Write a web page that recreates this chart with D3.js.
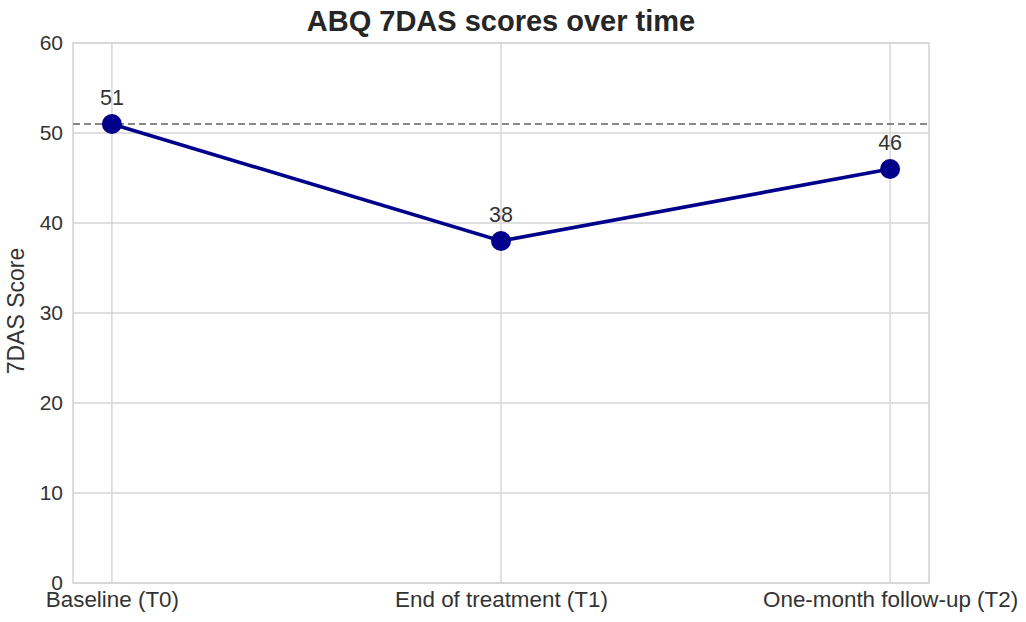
<!DOCTYPE html>
<html>
<head>
<meta charset="utf-8">
<script src="https://cdn.jsdelivr.net/npm/d3@7"></script>
<style>
  body { margin: 0; background: #fff; }
  text { font-family: "Liberation Sans", Arial, sans-serif; }
</style>
</head>
<body>
<svg id="chart" width="1026" height="622"></svg>
<script>
const timepoints = ['Baseline (T0)', 'End of treatment (T1)', 'One-month follow-up (T2)']
const scores = [51, 38, 46]
const yTicks = [0, 10, 20, 30, 40, 50, 60]
const baselineRef = 51

const margin = { top: 43, right: 97, bottom: 39, left: 73 }
const width = 1026, height = 622
const innerW = width - margin.left - margin.right
const innerH = height - margin.top - margin.bottom

const svg = d3.select('#chart')
const g = svg.append('g')
  .attr('transform', `translate(${margin.left},${margin.top})`)

// index scale with matplotlib-ish 5% padding
const x = d3.scaleLinear()
  .domain([-0.1, timepoints.length - 1 + 0.1])
  .range([0, innerW])

const y = d3.scaleLinear()
  .domain([0, 60])
  .range([innerH, 0])

const gridColor = '#d5d5d5'
const textColor = '#333'

// horizontal grid
g.append('g')
  .selectAll('line')
  .data(yTicks)
  .join('line')
  .attr('x1', 0)
  .attr('x2', innerW)
  .attr('y1', d => y(d))
  .attr('y2', d => y(d))
  .attr('stroke', gridColor)
  .attr('stroke-width', 1.4)

// vertical grid
g.append('g')
  .selectAll('line')
  .data(timepoints)
  .join('line')
  .attr('x1', (d, i) => x(i))
  .attr('x2', (d, i) => x(i))
  .attr('y1', 0)
  .attr('y2', innerH)
  .attr('stroke', gridColor)
  .attr('stroke-width', 1.4)

// frame
g.append('rect')
  .attr('width', innerW)
  .attr('height', innerH)
  .attr('fill', 'none')
  .attr('stroke', gridColor)
  .attr('stroke-width', 1.6)

// y axis (labels only)
const yAxis = d3.axisLeft(y).tickValues(yTicks).tickSize(0).tickPadding(10)
g.append('g')
  .call(yAxis)
  .call(a => a.select('.domain').remove())
  .selectAll('text')
  .attr('font-size', 21)
  .attr('fill', textColor)

// x axis (labels only)
const xAxis = d3.axisBottom(x)
  .tickValues(d3.range(timepoints.length))
  .tickFormat(i => timepoints[i])
  .tickSize(0)
  .tickPadding(8)
g.append('g')
  .attr('transform', `translate(0,${innerH})`)
  .call(xAxis)
  .call(a => a.select('.domain').remove())
  .selectAll('text')
  .attr('font-size', 22.4)
  .attr('fill', textColor)

// dashed reference at baseline
g.append('line')
  .attr('x1', 0)
  .attr('x2', innerW)
  .attr('y1', y(baselineRef))
  .attr('y2', y(baselineRef))
  .attr('stroke', '#888')
  .attr('stroke-width', 1.8)
  .attr('stroke-dasharray', '7,4')

// score line
const line = d3.line()
  .x((d, i) => x(i))
  .y(d => y(d))

g.append('path')
  .datum(scores)
  .attr('d', line)
  .attr('fill', 'none')
  .attr('stroke', '#00008b')
  .attr('stroke-width', 3.6)

g.append('g')
  .selectAll('circle')
  .data(scores)
  .join('circle')
  .attr('cx', (d, i) => x(i))
  .attr('cy', d => y(d))
  .attr('r', 10)
  .attr('fill', '#00008b')

// value labels
g.append('g')
  .selectAll('text')
  .data(scores)
  .join('text')
  .attr('x', (d, i) => x(i))
  .attr('y', d => y(d) - 19)
  .attr('text-anchor', 'middle')
  .attr('font-size', 21.5)
  .attr('fill', textColor)
  .text(d => d)

// title
svg.append('text')
  .attr('x', margin.left + innerW / 2)
  .attr('y', 31)
  .attr('text-anchor', 'middle')
  .attr('font-size', 29)
  .attr('font-weight', 'bold')
  .attr('fill', '#262626')
  .text('ABQ 7DAS scores over time')

// y label
svg.append('text')
  .attr('transform', `translate(24,${margin.top + innerH / 2 - 2}) rotate(-90)`)
  .attr('text-anchor', 'middle')
  .attr('font-size', 23)
  .attr('fill', textColor)
  .text('7DAS Score')
</script>
</body>
</html>
